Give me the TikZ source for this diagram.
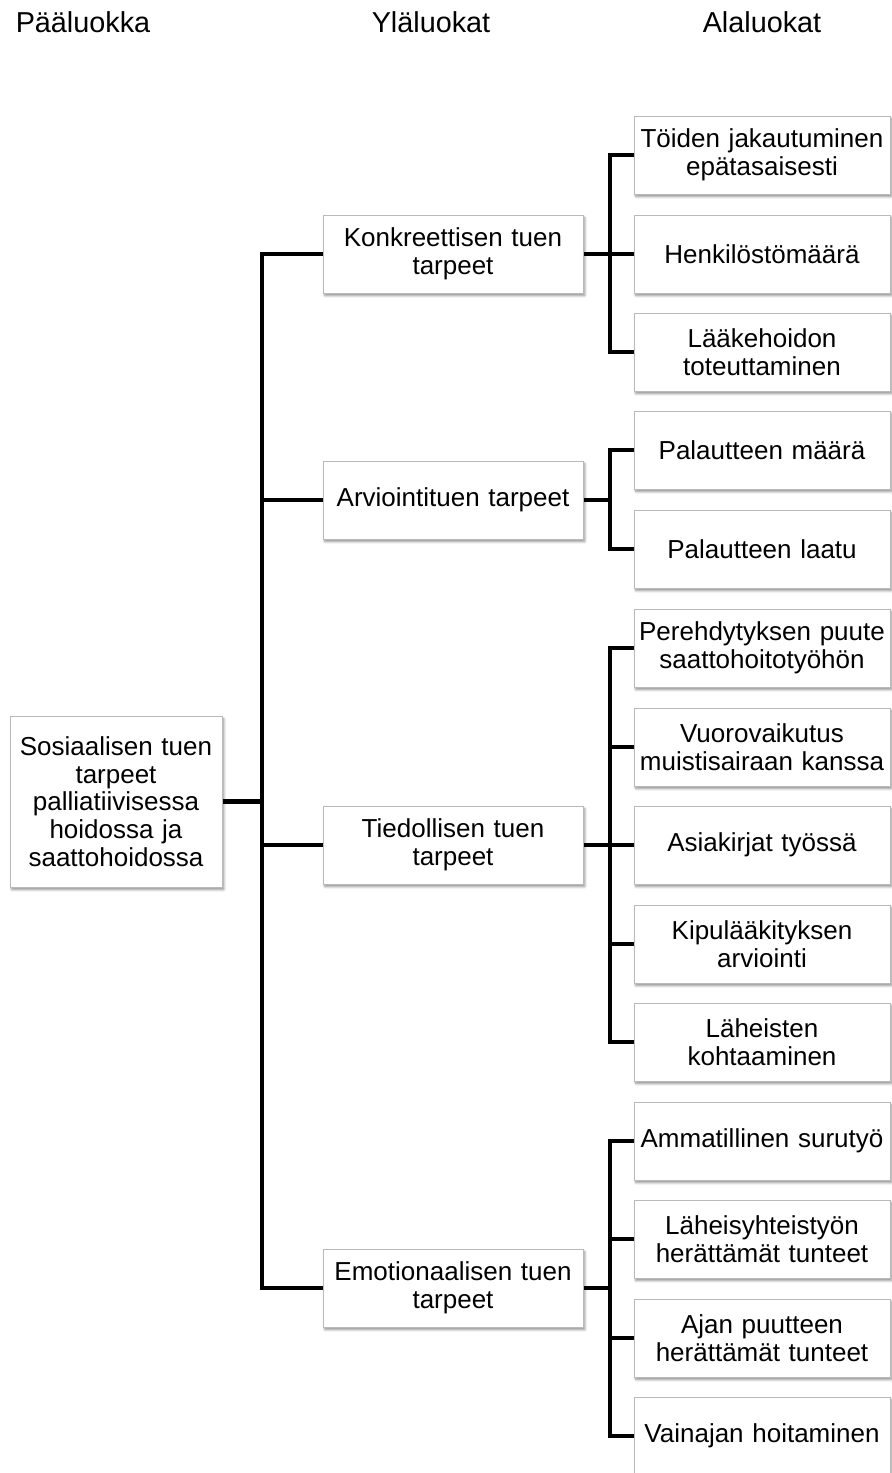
\documentclass[tikz,border=0pt]{standalone}
\usepackage{fontspec}
\setmainfont{Liberation Sans}
\usetikzlibrary{shadows.blur}
\tikzset{
  box/.style={draw=gray!55, line width=0.5pt, fill=white, inner sep=0pt, align=center,
    font=\fontsize{13}{13.8}\selectfont,
    blur shadow={shadow xshift=0.9pt, shadow yshift=-1.3pt, shadow blur radius=1.2pt, shadow blur steps=6, shadow opacity=45}},
  subbox/.style={box, text width=128pt, minimum height=39pt},
  midbox/.style={box, text width=130pt, minimum height=39pt},
  mainbox/.style={box, text width=106pt, minimum height=85.5pt},
  conn/.style={line width=2.4pt, black},
  head/.style={font=\fontsize{14.4}{15}\selectfont, anchor=base, inner sep=0pt},
}
\begin{document}
\begin{tikzpicture}[x=0.5pt,y=-0.5pt]
\useasboundingbox (0,0) rectangle (892,1473);
% headers
\node[head] (h1) at (83,32) {Pääluokka};
\node[head] (h2) at (431,32) {Yläluokat};
\node[head] (h3) at (762,32) {Alaluokat};
% main
\node[mainbox] (main) at (116,801.5) {Sosiaalisen tuen\\ tarpeet\\ palliatiivisessa\\ hoidossa ja\\ saattohoidossa};
% middle
\node[midbox] (k) at (453,254) {Konkreettisen tuen\\ tarpeet};
\node[midbox] (a) at (453,500) {Arviointituen tarpeet};
\node[midbox] (t) at (453,845) {Tiedollisen tuen\\ tarpeet};
\node[midbox] (e) at (453,1288) {Emotionaalisen tuen\\ tarpeet};
% sub
\node[subbox] (k1) at (762,155) {Töiden jakautuminen\\ epätasaisesti};
\node[subbox] (k2) at (762,254) {Henkilöstömäärä};
\node[subbox] (k3) at (762,352) {Lääkehoidon\\ toteuttaminen};
\node[subbox] (a1) at (762,450) {Palautteen määrä};
\node[subbox] (a2) at (762,549) {Palautteen laatu};
\node[subbox] (t1) at (762,648) {Perehdytyksen puute\\ saattohoitotyöhön};
\node[subbox] (t2) at (762,747) {Vuorovaikutus\\ muistisairaan kanssa};
\node[subbox] (t3) at (762,845) {Asiakirjat työssä};
\node[subbox] (t4) at (762,944) {Kipulääkityksen\\ arviointi};
\node[subbox] (t5) at (762,1042) {Läheisten\\ kohtaaminen};
\node[subbox] (e1) at (762,1141) {Ammatillinen surutyö};
\node[subbox] (e2) at (762,1239) {Läheisyhteistyön\\ herättämät tunteet};
\node[subbox] (e3) at (762,1338) {Ajan puutteen\\ herättämät tunteet};
\node[subbox] (e4) at (762,1436) {Vainajan hoitaminen};
% junctions
\coordinate (tr) at (262,801.5);
\coordinate (sk) at (610,254);
\coordinate (sa) at (610,500);
\coordinate (st) at (610,845);
\coordinate (se) at (610,1288);
% connectors
\draw[conn] (main.east) -- (tr);
\foreach \m in {k,a,t,e} \draw[conn] (\m.west) -| (tr);
\draw[conn] (k.east) -- (sk);
\foreach \s in {k1,k2,k3} \draw[conn] (\s.west) -| (sk);
\draw[conn] (a.east) -- (sa);
\foreach \s in {a1,a2} \draw[conn] (\s.west) -| (sa);
\draw[conn] (t.east) -- (st);
\foreach \s in {t1,t2,t3,t4,t5} \draw[conn] (\s.west) -| (st);
\draw[conn] (e.east) -- (se);
\foreach \s in {e1,e2,e3,e4} \draw[conn] (\s.west) -| (se);
\end{tikzpicture}
\end{document}
